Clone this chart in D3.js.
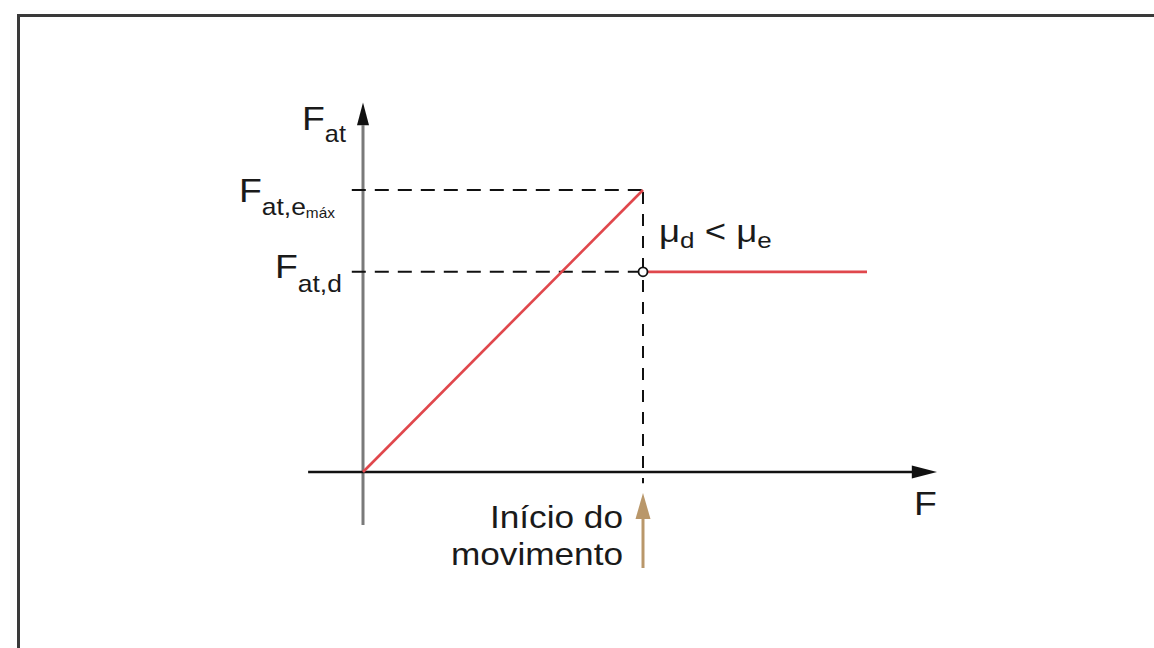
<!DOCTYPE html>
<html>
<head>
<meta charset="utf-8">
<script src="https://cdn.jsdelivr.net/npm/d3@7/dist/d3.min.js"></script>
<style>
  html, body { margin: 0; padding: 0; background: #fff; }
  svg { display: block; }
  text { font-family: "Liberation Sans", Arial, Helvetica, sans-serif; fill: #1a1a1a; }
</style>
</head>
<body>
<script>
// Friction force versus applied force: static regime rises until the
// maximum static friction, then drops to the constant kinetic value.
const staticF = [0, 10];          // applied force, static regime
const staticFat = [0, 10];        // friction force, static regime
const kineticF = [10, 18];        // applied force, kinetic regime
const kineticFat = [7.1, 7.1];    // friction force, kinetic regime
const levelValues = [10, 7.1];    // F_at,e máx and F_at,d
const motionStart = 10;           // applied force where motion starts

const W = 1154, H = 648;
const svg = d3.select("body").append("svg").attr("width", W).attr("height", H);

// frame (top and left edges visible)
svg.append("path")
  .attr("d", `M18.5,${H} L18.5,15.5 L${W},15.5`)
  .attr("fill", "none").attr("stroke", "#3a3a3a").attr("stroke-width", 3);

const x = d3.scaleLinear().domain([0, 10]).range([363, 643]);
const y = d3.scaleLinear().domain([0, 10]).range([472, 190]);

// vertical axis (F_at)
svg.append("line")
  .attr("x1", x(0)).attr("x2", x(0))
  .attr("y1", y(-1.88)).attr("y2", y(12.3))
  .attr("stroke", "#7a7a7a").attr("stroke-width", 3);
svg.append("path")
  .attr("d", `M${x(0)},${y(13.1)} L${x(0) - 6},${y(12.3)} L${x(0) + 6},${y(12.3)} Z`)
  .attr("fill", "#111");

// horizontal axis (F)
svg.append("line")
  .attr("x1", x(-1.96)).attr("x2", x(19.7))
  .attr("y1", y(0)).attr("y2", y(0))
  .attr("stroke", "#111").attr("stroke-width", 2.5);
svg.append("path")
  .attr("d", `M${x(20.5)},${y(0)} L${x(19.6)},${y(0) - 6.5} L${x(19.6)},${y(0) + 6.5} Z`)
  .attr("fill", "#111");

// dashed guide lines
svg.selectAll("line.hguide").data(levelValues).enter().append("line")
  .attr("class", "hguide")
  .attr("x1", x(-0.4)).attr("x2", x(motionStart))
  .attr("y1", d => y(d)).attr("y2", d => y(d))
  .attr("stroke", "#111").attr("stroke-width", 2)
  .attr("stroke-dasharray", "14,9");
svg.append("line")
  .attr("x1", x(motionStart)).attr("x2", x(motionStart))
  .attr("y1", y(levelValues[0]) + 2).attr("y2", y(-0.4))
  .attr("stroke", "#111").attr("stroke-width", 2)
  .attr("stroke-dasharray", "12,10");

// red friction curve
const line = d3.line().x(d => x(d[0])).y(d => y(d[1]));
svg.append("path")
  .datum(d3.zip(staticF, staticFat))
  .attr("d", line)
  .attr("fill", "none").attr("stroke", "#e0474c").attr("stroke-width", 2.6);
const r = 4.5;
svg.append("path")
  .datum(d3.zip(kineticF, kineticFat))
  .attr("d", d => `M${x(d[0][0]) + r},${y(d[0][1])} L${x(d[1][0])},${y(d[1][1])}`)
  .attr("fill", "none").attr("stroke", "#e0474c").attr("stroke-width", 2.8);
svg.append("circle")
  .attr("cx", x(kineticF[0])).attr("cy", y(kineticFat[0])).attr("r", r)
  .attr("fill", "#fff").attr("stroke", "#111").attr("stroke-width", 1.8);

// brown arrow marking start of motion
const ax = x(motionStart);
svg.append("line")
  .attr("x1", ax).attr("x2", ax).attr("y1", 568).attr("y2", 514)
  .attr("stroke", "#b9976a").attr("stroke-width", 3);
svg.append("path")
  .attr("d", `M${ax},493 L${ax - 7.5},519 L${ax + 7.5},519 Z`)
  .attr("fill", "#b9976a");

// labels (slightly widened glyphs)
function label(px, py, parts, anchor, sx) {
  const t = svg.append("text")
    .attr("transform", `translate(${px},${py}) scale(${sx || 1.1},1)`)
    .attr("text-anchor", anchor || "start");
  parts.forEach(p => {
    const ts = t.append("tspan").text(p.t).style("font-size", p.s + "px");
    if (p.dy) ts.attr("dy", p.dy);
  });
  return t;
}

label(302, 130, [{t: "F", s: 34}, {t: "at", s: 23, dy: 12}]);
label(239, 202, [{t: "F", s: 34}, {t: "at,e", s: 24, dy: 13}, {t: "máx", s: 14, dy: 3}]);
label(275, 278, [{t: "F", s: 34}, {t: "at,d", s: 24, dy: 14}]);
label(914, 515, [{t: "F", s: 34}]);
label(659, 242, [{t: "μ", s: 31}, {t: "d", s: 22, dy: 6}, {t: " < ", s: 31, dy: -6}, {t: "μ", s: 31}, {t: "e", s: 22, dy: 6}], "start", 1.18);
label(623, 528, [{t: "Início do", s: 32}], "end");
label(623, 565, [{t: "movimento", s: 32}], "end");
</script>
</body>
</html>
